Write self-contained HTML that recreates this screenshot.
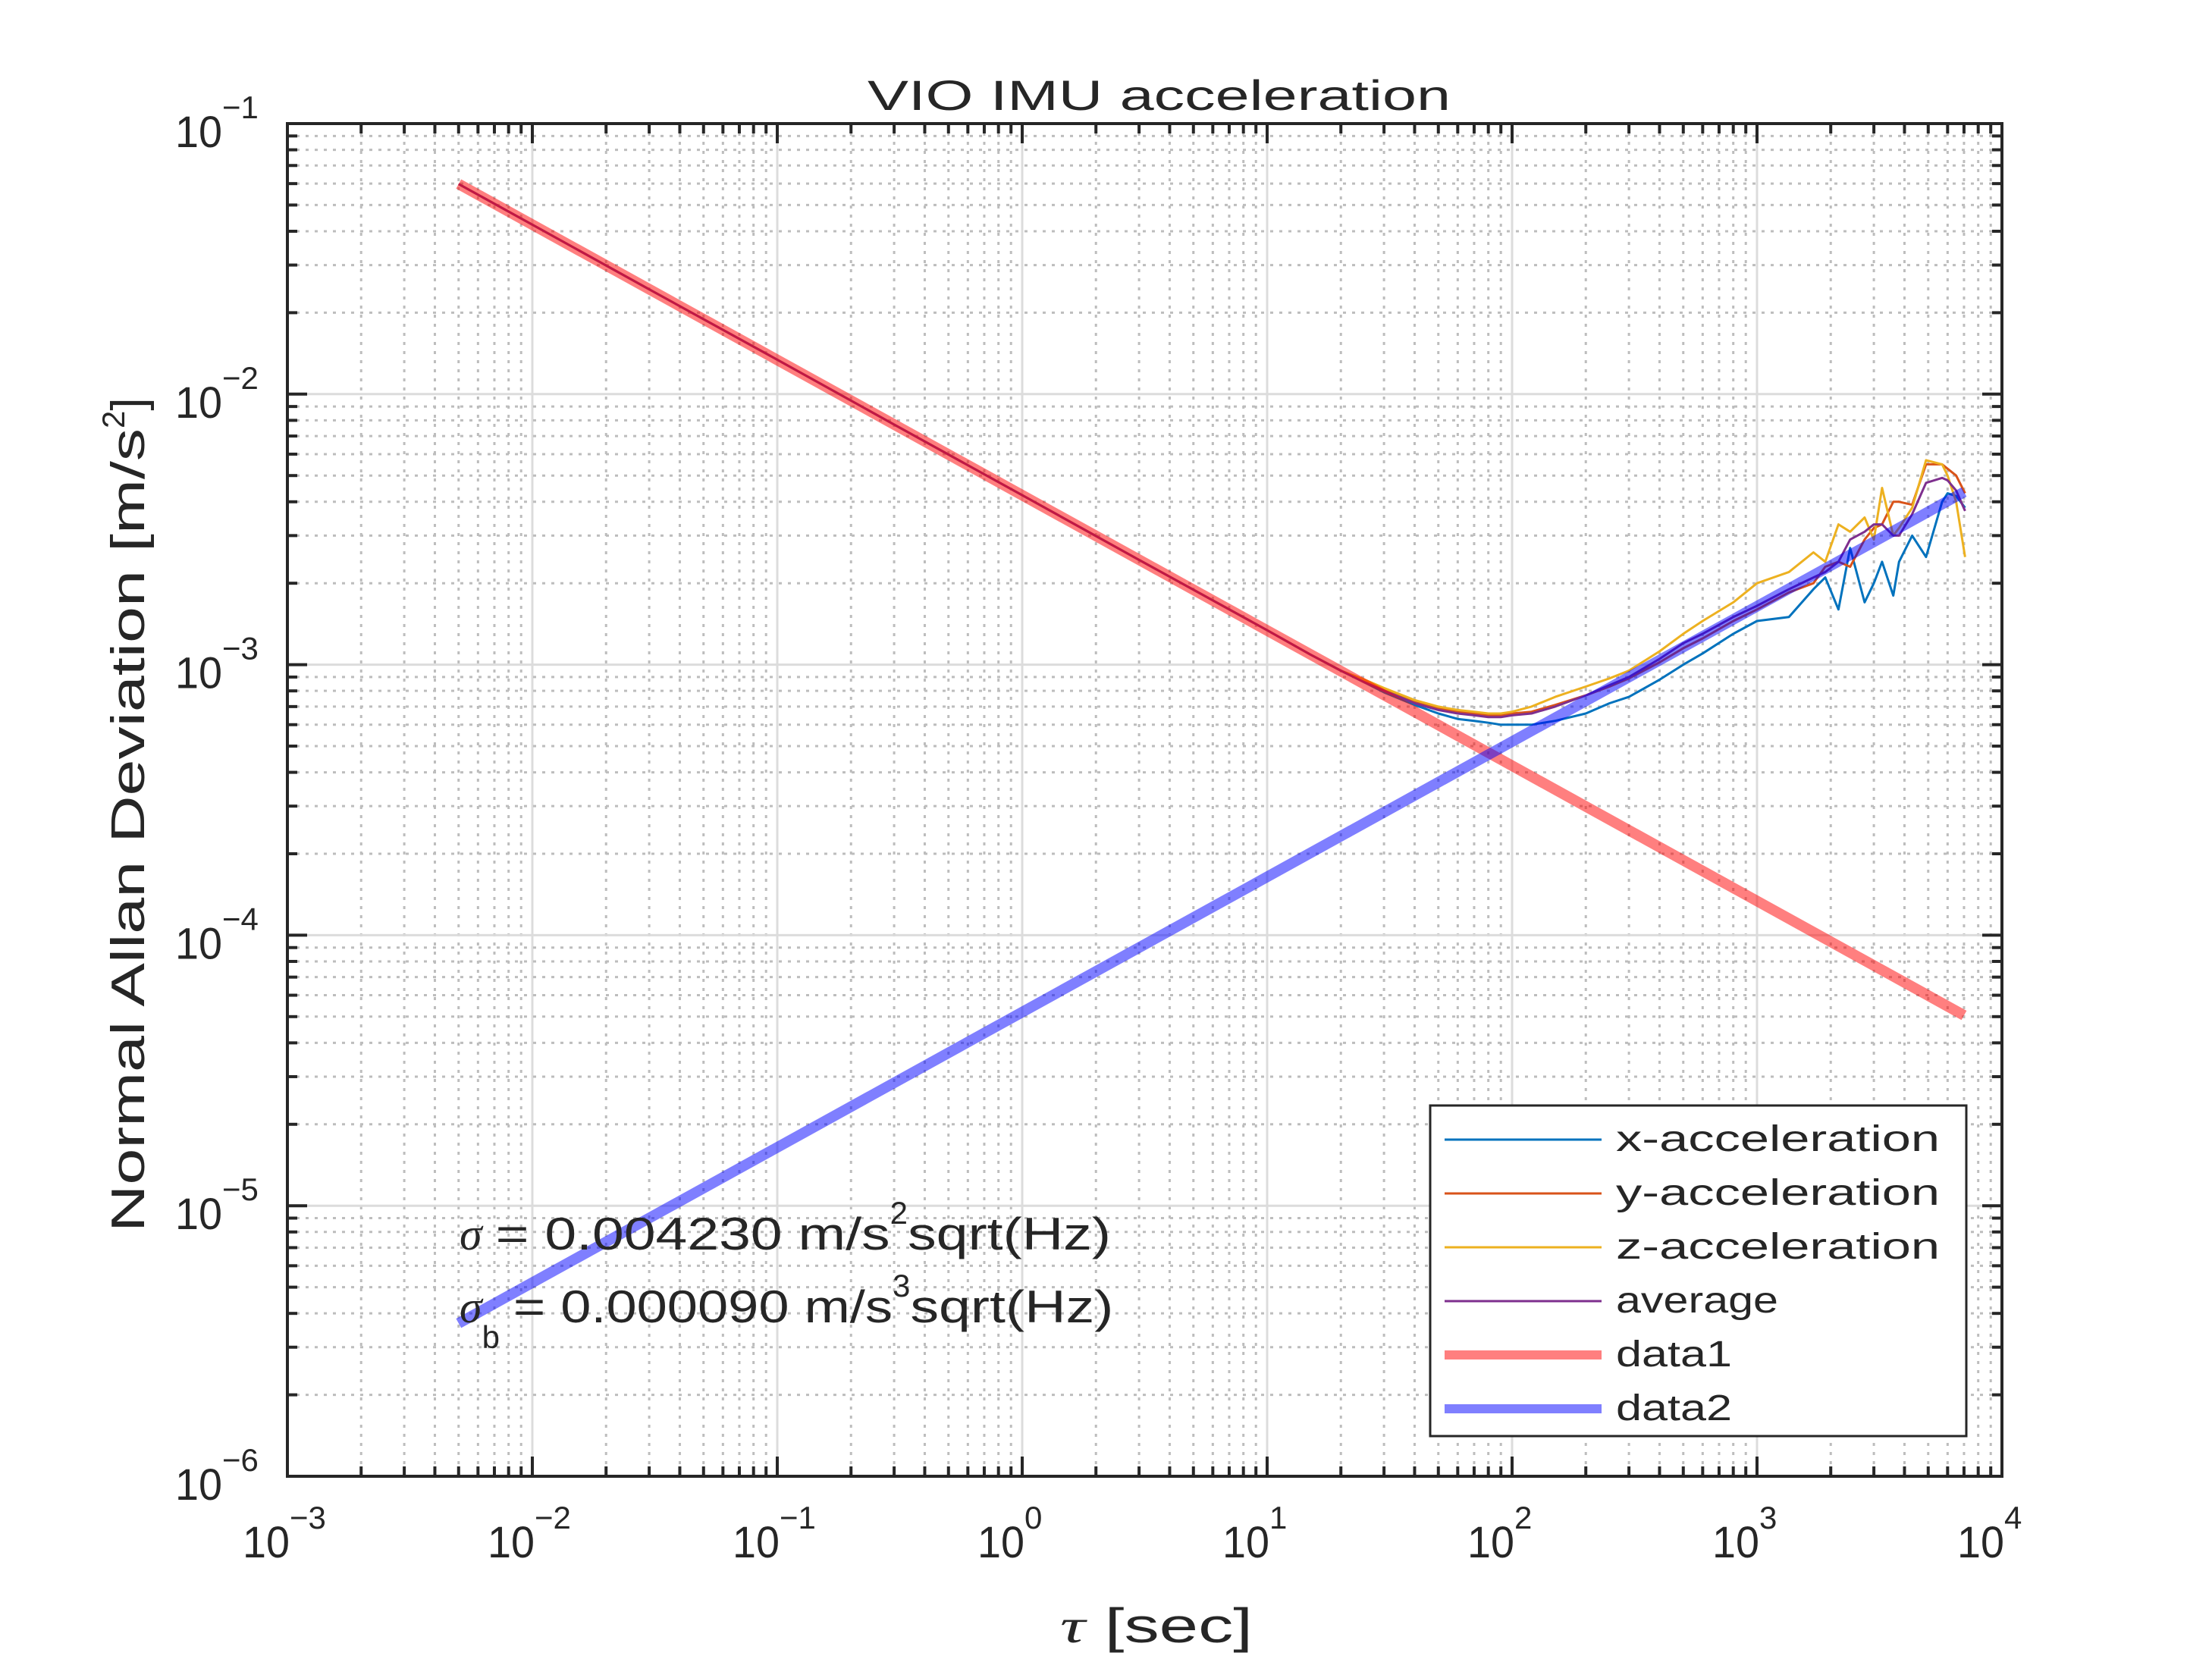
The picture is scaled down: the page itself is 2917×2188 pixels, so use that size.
<!DOCTYPE html>
<html><head><meta charset="utf-8"><style>
html,body{margin:0;padding:0;background:#fff;}
svg{display:block;}
text{font-family:"Liberation Sans",sans-serif;fill:#262626;}
</style></head><body>
<svg id="chart" width="2917" height="2188" viewBox="0 0 2917 2188" xmlns="http://www.w3.org/2000/svg">
<rect width="2917" height="2188" fill="#fff"/>
<rect x="379" y="163" width="2261" height="1784" fill="#fff"/>
<g id="grid"></g>
<g id="series"></g>
<g id="axes"></g>
<text x="1144" y="145" font-size="56" textLength="769" lengthAdjust="spacingAndGlyphs">VIO IMU acceleration</text>
<text x="1398" y="2166" font-size="64" textLength="254" lengthAdjust="spacingAndGlyphs"><tspan font-style="italic" font-family="Liberation Serif">τ</tspan> [sec]</text>
<text transform="translate(190,1625) rotate(-90)" font-size="62"><tspan textLength="1060" lengthAdjust="spacingAndGlyphs">Normal Allan Deviation [m/s</tspan><tspan dy="-26" font-size="42">2</tspan><tspan dy="26">]</tspan></text>
<text x="606" y="1648" font-size="60"><tspan font-family="Liberation Serif" font-style="italic">σ</tspan><tspan dx="18" textLength="520" lengthAdjust="spacingAndGlyphs">= 0.004230 m/s</tspan><tspan dy="-34" font-size="42">2</tspan><tspan dy="34" textLength="268" lengthAdjust="spacingAndGlyphs">sqrt(Hz)</tspan></text>
<text x="606" y="1744" font-size="60"><tspan font-family="Liberation Serif" font-style="italic">σ</tspan><tspan dy="34" font-size="42">b</tspan><tspan dx="18" dy="-34" textLength="500" lengthAdjust="spacingAndGlyphs">= 0.000090 m/s</tspan><tspan dy="-34" font-size="42">3</tspan><tspan dy="34" textLength="268" lengthAdjust="spacingAndGlyphs">sqrt(Hz)</tspan></text>
<g id="legend"></g>
</svg>
<script>
// ---- data ----
const tauLow = [0.005, 0.01, 0.03, 0.1, 0.3, 1, 3, 10, 15, 20];
const valLow = [0.0598, 0.0423, 0.0244, 0.0134, 0.00772, 0.00423, 0.00244, 0.00134, 0.00109, 0.00095];
const tauHi = [25,30,40,50,60,70,80,90,100,120,150,200,250,300,400,500,600,800,1000,1350,1700,1900,2150,2400,2750,3000,3240,3600,3800,4300,4900,5700,6000,6500,7070];
const xVals = [0.00086,0.00079,0.00071,0.00066,0.00063,0.00062,0.00061,0.00060,0.00060,0.00060,0.00062,0.00066,0.00072,0.00076,0.00088,0.00100,0.00110,0.00130,0.00145,0.00150,0.00190,0.00210,0.00160,0.00270,0.00170,0.00200,0.00240,0.00180,0.00240,0.00300,0.00250,0.00400,0.00430,0.00420,0.00380];
const yVals = [0.00087,0.00081,0.00073,0.00069,0.00067,0.00066,0.00065,0.00065,0.00066,0.00067,0.00071,0.00077,0.00083,0.00089,0.00102,0.00115,0.00125,0.00145,0.00160,0.00185,0.00200,0.00230,0.00240,0.00230,0.00290,0.00320,0.00330,0.00400,0.00400,0.00390,0.00550,0.00550,0.00530,0.00500,0.00430];
const zVals = [0.00088,0.00082,0.00074,0.00070,0.00068,0.00067,0.00066,0.00066,0.00067,0.00070,0.00076,0.00083,0.00089,0.00095,0.00112,0.00130,0.00145,0.00170,0.00200,0.00220,0.00260,0.00240,0.00330,0.00310,0.00350,0.00290,0.00450,0.00300,0.00320,0.00380,0.00570,0.00550,0.00500,0.00400,0.00250];
const avgVals = [0.00086,0.00080,0.00072,0.00068,0.00066,0.00065,0.00064,0.00064,0.00065,0.00066,0.00070,0.00077,0.00084,0.00090,0.00105,0.00120,0.00130,0.00150,0.00165,0.00190,0.00210,0.00220,0.00240,0.00290,0.00310,0.00330,0.00330,0.00300,0.00300,0.00360,0.00470,0.00490,0.00480,0.00440,0.00370];
const fitTau = [0.005, 7000];
const sigmaN = 0.004230;
const sigmaB = 0.000090;
const xTickExp = [-3,-2,-1,0,1,2,3,4];
const yTickExp = [-6,-5,-4,-3,-2,-1];
const legendLabels = ["x-acceleration","y-acceleration","z-acceleration","average","data1","data2"];

// ---- axes ----
const L=379,R=2640,T=163,B=1947;
const X = t => L + (Math.log10(t)+3)/7*(R-L);
const Y = v => B - (Math.log10(v)+6)/5*(B-T);
const NS="http://www.w3.org/2000/svg";
function mk(tag, attrs, parent){const e=document.createElementNS(NS,tag);for(const k in attrs)e.setAttribute(k,attrs[k]);parent.appendChild(e);return e;}
const grid=document.getElementById('grid'), axes=document.getElementById('axes'), ser=document.getElementById('series'), leg=document.getElementById('legend');

for(let e=-3;e<=4;e++){
  for(let m=1;m<=9;m++){
    if(e==4 && m>1) break;
    const x=X(m*Math.pow(10,e));
    const major=m==1;
    const g=mk('line',{x1:x,x2:x,y1:T,y2:B,stroke:major?'#dcdcdc':'#bdbdbd','stroke-width':3,'stroke-dasharray':major?'':'4 8'},grid);
    
    
    const len=major?26:13;
    mk('line',{x1:x,x2:x,y1:B,y2:B-len,stroke:'#262626','stroke-width':4},axes);
    mk('line',{x1:x,x2:x,y1:T,y2:T+len,stroke:'#262626','stroke-width':4},axes);
  }
}
for(let e=-6;e<=-1;e++){
  for(let m=1;m<=9;m++){
    if(e==-1 && m>1) break;
    const y=Y(m*Math.pow(10,e));
    const major=m==1;
    const g=mk('line',{x1:L,x2:R,y1:y,y2:y,stroke:major?'#dcdcdc':'#bdbdbd','stroke-width':3,'stroke-dasharray':major?'':'4 8'},grid);
    
    
    const len=major?26:13;
    mk('line',{x1:L,x2:L+len,y1:y,y2:y,stroke:'#262626','stroke-width':4},axes);
    mk('line',{x1:R,x2:R-len,y1:y,y2:y,stroke:'#262626','stroke-width':4},axes);
  }
}
const frame=mk('rect',{x:L,y:T,width:R-L,height:B-T,fill:'none',stroke:'#262626','stroke-width':4},axes);



xTickExp.forEach(e=>{
  const x=X(Math.pow(10,e));
  const t=mk('text',{x:x-59,y:2054,'font-size':58},axes);
  
  
  const a=mk('tspan',{textLength:62,lengthAdjust:'spacingAndGlyphs'},t);a.textContent='10';
  const b=mk('tspan',{dy:-38,'font-size':42},t);b.textContent=(e<0?'\u2212':'')+Math.abs(e);
});
yTickExp.forEach(e=>{
  const y=Y(Math.pow(10,e));
  const t=mk('text',{x:231,y:y+31,'font-size':58},axes);
  
  
  const a=mk('tspan',{textLength:62,lengthAdjust:'spacingAndGlyphs'},t);a.textContent='10';
  const b=mk('tspan',{dy:-38,'font-size':42},t);b.textContent='\u2212'+Math.abs(e);
});

function path(ts, vs, color, w, opacity, name){
  const d=ts.map((t,i)=>(i?'L':'M')+X(t).toFixed(1)+' '+Y(vs[i]).toFixed(1)).join(' ');
  const p=mk('path',{d:d,fill:'none',stroke:color,'stroke-width':w,'stroke-opacity':opacity,'stroke-linejoin':'round'},ser);
  
  
}
const allTau=tauLow.concat(tauHi);
path(allTau, valLow.concat(xVals), '#0072BD', 3, 1, 'x-acceleration-line');
path(allTau, valLow.concat(yVals), '#D95319', 3, 1, 'y-acceleration-line');
path(allTau, valLow.concat(zVals), '#EDB120', 3, 1, 'z-acceleration-line');
path(allTau, valLow.concat(avgVals), '#7E2F8E', 3, 1, 'average-line');
path(fitTau, fitTau.map(t=>sigmaN/Math.sqrt(t)), '#ff0000', 14, 0.5, 'data1-line');
path(fitTau, fitTau.map(t=>sigmaB*Math.sqrt(t/3)), '#0000ff', 14, 0.5, 'data2-line');

const LX=1886, LY=1458;
const lb=mk('rect',{x:LX,y:LY,width:707,height:436,fill:'#fff',stroke:'#262626','stroke-width':3},leg);


const lColors=['#0072BD','#D95319','#EDB120','#7E2F8E','rgba(255,0,0,0.5)','rgba(0,0,255,0.5)'];
const lWidths=[3,3,3,3,12,12];
legendLabels.forEach((lab,i)=>{
  const y=LY+45+i*71;
  const ln=mk('line',{x1:LX+19,x2:LX+226,y1:y,y2:y,stroke:lColors[i],'stroke-width':lWidths[i]},leg);
  
  
  const t=mk('text',{x:LX+245,y:y+15,'font-size':48,textLength:(30.5*lab.length).toFixed(0),lengthAdjust:'spacingAndGlyphs'},leg);
  
  
  t.textContent=lab;
});
</script>
</body></html>
